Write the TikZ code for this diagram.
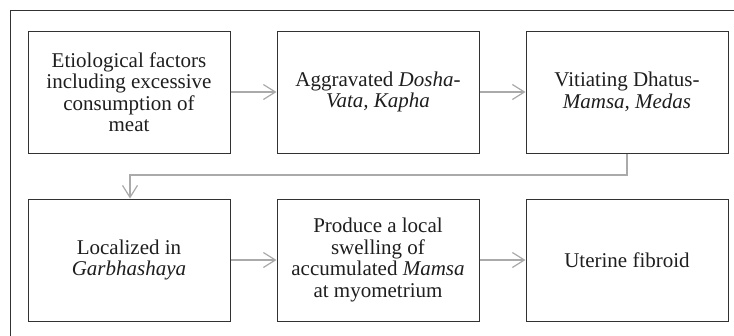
\documentclass[tikz,border=0pt]{standalone}
\usepackage{fontspec}
\setmainfont{Liberation Serif}
\usetikzlibrary{arrows.meta}
\definecolor{edgegray}{RGB}{50,50,50}
\definecolor{linkgray}{RGB}{170,170,170}
\definecolor{inkgray}{RGB}{30,30,30}
\begin{document}
\begin{tikzpicture}[x=1pt,y=-1pt,
  stagebox/.style={draw=edgegray, line width=1pt, rectangle,
    minimum width=202pt, minimum height=122pt, inner sep=0pt,
    align=center, text=inkgray, font=\fontsize{21}{21.5}\selectfont},
  link/.style={draw=linkgray, line width=1.2pt,
    -{Straight Barb[length=12pt,width=15pt]}}]
  \useasboundingbox (0,0) rectangle (734,335);
  \begin{scope}
    \clip (0,0) rectangle (734,335);
    \draw[edgegray, line width=1pt] (10,10) rectangle (760,360);
  \end{scope}

  % first row
  \node[stagebox] (s1) at (129,92) {Etiological factors\\including excessive\\consumption of\\meat};
  \node[stagebox] (s2) at (378,92) {Aggravated \textit{Dosha-}\\\textit{Vata, Kapha}};
  \node[stagebox] (s3) at (627,92) {Vitiating Dhatus-\\\textit{Mamsa, Medas}};
  % second row
  \node[stagebox] (s4) at (129,260) {Localized in\\\textit{Garbhashaya}};
  \node[stagebox] (s5) at (378,260) {Produce a local\\swelling of\\accumulated \textit{Mamsa}\\at myometrium};
  \node[stagebox] (s6) at (627,260) {Uterine fibroid};

  \coordinate (turnR) at (627,175);
  \coordinate (turnL) at (130,175);

  \draw[link] (s1) -- (s2);
  \draw[link] (s2) -- (s3);
  \draw[link] (s3.south) -- (turnR) -- (turnL) -- (turnL |- s4.north);
  \draw[link] (s4) -- (s5);
  \draw[link] (s5) -- (s6);
\end{tikzpicture}
\end{document}
